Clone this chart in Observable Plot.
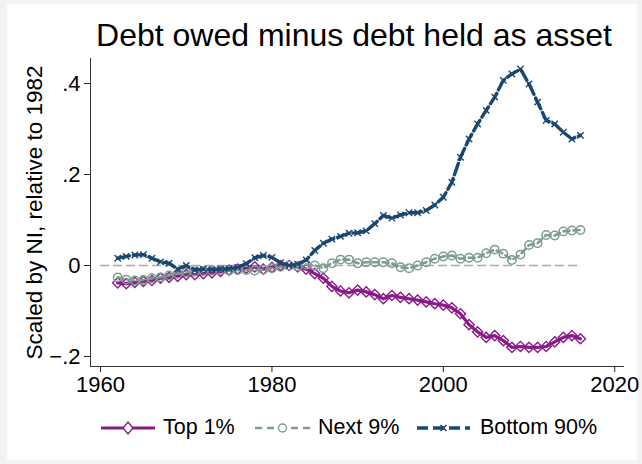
<!DOCTYPE html>
<html>
<head>
<meta charset="utf-8">
<script src="https://cdn.jsdelivr.net/npm/d3@7"></script>
<script src="https://cdn.jsdelivr.net/npm/@observablehq/plot@0.6"></script>
<style>
  html, body { margin: 0; padding: 0; }
  body { width: 642px; height: 464px; background: #f3f3f3; position: relative; overflow: hidden;
         font-family: "Liberation Sans", Arial, Helvetica, sans-serif; color: #000; }
  #card { position: absolute; left: 7px; top: 4px; width: 630px; height: 456px; background: #fff; }
  #title { position: absolute; left: 54px; width: 600px; top: 19px; text-align: center;
           font-size: 32px; line-height: 1; white-space: nowrap; }
  #chart { position: absolute; left: 0; top: 0; }
  .lg { position: absolute; font-size: 21.5px; line-height: 1; white-space: nowrap; }
  .sw { position: absolute; }
</style>
</head>
<body>
<div id="card"></div>
<div id="title">Debt owed minus debt held as asset</div>
<div id="chart"></div>
<div id="legend"></div>
<script>
const years = [1962,1963,1964,1965,1966,1967,1968,1969,1970,1971,1972,1973,1974,1975,1976,1977,1978,1979,1980,1981,1982,1983,1984,1985,1986,1987,1988,1989,1990,1991,1992,1993,1994,1995,1996,1997,1998,1999,2000,2001,2002,2003,2004,2005,2006,2007,2008,2009,2010,2011,2012,2013,2014,2015,2016];

const top1 = [-0.038,-0.040,-0.037,-0.035,-0.033,-0.028,-0.026,-0.024,-0.020,-0.020,-0.018,-0.016,-0.013,-0.010,-0.008,-0.006,-0.003,-0.008,-0.004,0.000,0.000,-0.003,
  -0.008,-0.018,-0.028,-0.046,-0.056,-0.060,-0.054,-0.058,-0.064,-0.073,-0.066,-0.070,-0.073,-0.076,-0.080,-0.084,-0.087,-0.093,-0.106,-0.130,-0.146,-0.158,-0.154,-0.165,-0.180,-0.178,-0.180,-0.180,-0.178,-0.168,-0.158,-0.154,-0.161];

const next9 = [-0.026,-0.031,-0.033,-0.032,-0.028,-0.026,-0.022,-0.018,-0.015,-0.013,-0.012,-0.011,-0.010,-0.011,-0.010,-0.010,-0.011,-0.009,-0.006,-0.003,0.000,-0.002,
  0.002,0.000,-0.006,0.005,0.013,0.013,0.005,0.007,0.007,0.007,0.005,-0.004,-0.006,0.000,0.007,0.015,0.020,0.022,0.015,0.017,0.017,0.027,0.035,0.026,0.012,0.024,0.045,0.049,0.067,0.066,0.075,0.077,0.078];

const bottom90 = [0.016,0.020,0.023,0.024,0.016,0.008,0.005,-0.008,0.000,-0.010,-0.008,-0.009,-0.008,-0.007,-0.004,0.004,0.017,0.022,0.018,0.006,0.000,0.003,
  0.012,0.033,0.049,0.058,0.064,0.071,0.072,0.076,0.092,0.110,0.104,0.111,0.116,0.116,0.121,0.133,0.150,0.183,0.238,0.278,0.311,0.341,0.370,0.407,0.421,0.432,0.399,0.359,0.319,0.311,0.293,0.278,0.286];

const zeroYears = [1960, 2016];
const zeroValues = [0, 0];

const seriesNames = ["Top 1%", "Next 9%", "Bottom 90%"];
const seriesColors = ["#8b1a89", "#7d9d8c", "#1a476f"];

const xTicks = [1960, 1980, 2000, 2020];
const yTicks = [-0.2, 0, 0.2, 0.4];
const yTickLabels = ["\u2212.2", "0", ".2", ".4"];
const xDomain = [1958.83, 2021.14];
const yDomain = [-0.222, 0.455];
const yTitle = "Scaled by NI, relative to 1982";

const rows = (vals) => years.map((y, i) => ({year: y, value: vals[i]}));
const dTop = rows(top1), dNext = rows(next9), dBot = rows(bottom90);
const dZero = zeroYears.map((y, i) => ({year: y, value: zeroValues[i]}));

const chart = Plot.plot({
  width: 642, height: 464,
  marginLeft: 90, marginRight: 18, marginTop: 58, marginBottom: 98,
  x: {domain: xDomain},
  y: {domain: yDomain},
  style: {fontFamily: "'Liberation Sans', Arial, sans-serif", fontSize: "22px", background: "transparent", color: "#222", overflow: "visible"},
  marks: [
    Plot.ruleY([yDomain[0]], {stroke: "#333", strokeWidth: 1}),
    Plot.ruleX([xDomain[0]], {stroke: "#333", strokeWidth: 1}),
    Plot.axisX({ticks: xTicks, tickFormat: d => String(d), tickSize: 6, tickPadding: 4, fontSize: 22, label: null, fill: "#000"}),
    Plot.axisY({ticks: yTicks, tickFormat: (d) => yTickLabels[yTicks.indexOf(d)], tickSize: 6, tickPadding: 4, fontSize: 22, label: null, fill: "#000"}),
    Plot.text([yTitle], {frameAnchor: "left", rotate: -90, dx: -56, fontSize: 22.5, fill: "#000", textAnchor: "middle", lineAnchor: "middle"}),
    Plot.line(dZero, {x: "year", y: "value", stroke: "#aaaaaa", strokeWidth: 1.6, strokeDasharray: "8,5"}),
    Plot.line(dTop, {x: "year", y: "value", stroke: seriesColors[0], strokeWidth: 3.2}),
    Plot.dot(dTop, {x: "year", y: "value", symbol: "diamond2", r: 4.6, stroke: seriesColors[0], strokeWidth: 1.4, fill: "none"}),
    Plot.line(dNext, {x: "year", y: "value", stroke: seriesColors[1], strokeWidth: 2.6, strokeDasharray: "6,4"}),
    Plot.dot(dNext, {x: "year", y: "value", symbol: "circle", r: 4.2, stroke: seriesColors[1], strokeWidth: 1.5, fill: "none"}),
    Plot.line(dBot, {x: "year", y: "value", stroke: seriesColors[2], strokeWidth: 3.4, strokeDasharray: "12,4"}),
    Plot.dot(dBot, {x: "year", y: "value", symbol: "times", r: 3, stroke: seriesColors[2], strokeWidth: 1.4})
  ]
});
document.getElementById("chart").appendChild(chart);

// Legend
const legend = document.getElementById("legend");
const items = [
  {sx: 101, sw: 54, tx: 163, dash: null, width: 3.2, marker: "diamond"},
  {sx: 255, sw: 55, tx: 318, dash: "7,5", width: 2.6, marker: "circle"},
  {sx: 417, sw: 53, tx: 480, dash: "11,5", width: 3.4, marker: "times"}
];
const ly = 428;
items.forEach((it, i) => {
  const c = seriesColors[i];
  const cx = it.sw / 2;
  let m = "";
  if (it.marker === "diamond") m = `<path d="M${cx},4 L${cx+5},10 L${cx},16 L${cx-5},10 Z" fill="#fff" stroke="${c}" stroke-width="1.4"/>`;
  if (it.marker === "circle") m = `<circle cx="${cx}" cy="10" r="4" fill="#fff" stroke="${c}" stroke-width="1.4"/>`;
  if (it.marker === "times") m = `<path d="M${cx-3},7 L${cx+3},13 M${cx+3},7 L${cx-3},13" stroke="${c}" stroke-width="1.6"/>`;
  const sw = document.createElement("div");
  sw.className = "sw";
  sw.style.left = it.sx + "px";
  sw.style.top = (ly - 10) + "px";
  sw.innerHTML = `<svg width="${it.sw}" height="20"><line x1="0" y1="10" x2="${it.sw}" y2="10" stroke="${c}" stroke-width="${it.width}" ${it.dash ? `stroke-dasharray="${it.dash}"` : ""}/>${m}</svg>`;
  legend.appendChild(sw);
  const t = document.createElement("div");
  t.className = "lg";
  t.style.left = it.tx + "px";
  t.style.top = (ly - 11) + "px";
  t.textContent = seriesNames[i];
  legend.appendChild(t);
});
</script>
</body>
</html>
